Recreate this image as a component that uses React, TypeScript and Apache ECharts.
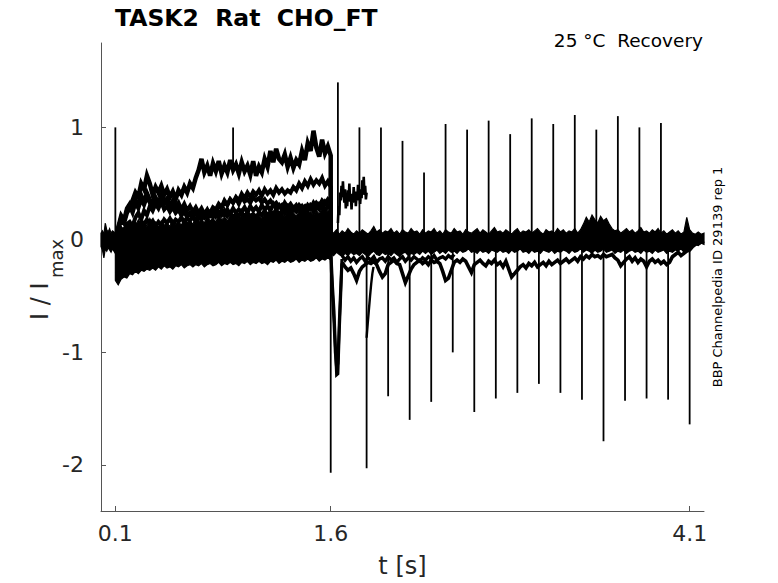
import React, { useEffect, useRef } from "react";
import * as echarts from "echarts";

// ---- axes ----
const X_TICKS = [0.1, 1.6, 4.1];
const Y_TICKS = [-2, -1, 0, 1];
const X_MIN = 0;
const X_MAX = 4.2;
const Y_MIN = -2.41;
const Y_MAX = 1.75;

// ---- baseline before the prepulse (t = 0 .. 0.1, step 0.01) ----
const PRE_START = 0;
const PRE_STEP = 0.01;
const preLower = [-0.06, -0.09, -0.16, -0.08, -0.1, -0.07, -0.09, -0.11, -0.08, -0.1, -0.12];
const preUpper = [0.06, 0.08, 0.05, 0.15, 0.09, 0.07, 0.1, 0.06, 0.08, 0.07, 0.05];

// ---- prepulse (t = 0.1 .. 1.6, step 0.02) ----
const PULSE_START = 0.1;
const PULSE_STEP = 0.02;
const pulseLower = [
  -0.36, -0.4, -0.35, -0.33, -0.34, -0.3, -0.31, -0.28, -0.3, -0.27,
  -0.28, -0.26, -0.27, -0.25, -0.27, -0.24, -0.26, -0.23, -0.25, -0.24,
  -0.26, -0.23, -0.24, -0.22, -0.25, -0.23, -0.22, -0.24, -0.22, -0.23,
  -0.21, -0.24, -0.22, -0.21, -0.23, -0.22, -0.2, -0.23, -0.21, -0.22,
  -0.2, -0.22, -0.21, -0.23, -0.2, -0.21, -0.19, -0.22, -0.2, -0.21,
  -0.19, -0.21, -0.2, -0.22, -0.19, -0.2, -0.18, -0.21, -0.19, -0.2,
  -0.18, -0.2, -0.19, -0.17, -0.2, -0.18, -0.19, -0.17, -0.19, -0.18,
  -0.16, -0.19, -0.17, -0.18, -0.16, -0.18,
];
const pulseUpper = [
  0.02, 0.08, 0.12, 0.06, 0.14, 0.1, 0.16, 0.12, 0.18, 0.13,
  0.17, 0.12, 0.19, 0.14, 0.16, 0.11, 0.17, 0.13, 0.15, 0.12,
  0.18, 0.14, 0.16, 0.13, 0.19, 0.15, 0.17, 0.14, 0.2, 0.16,
  0.18, 0.15, 0.21, 0.17, 0.19, 0.16, 0.22, 0.18, 0.2, 0.17,
  0.21, 0.18, 0.23, 0.19, 0.21, 0.18, 0.22, 0.19, 0.24, 0.2,
  0.22, 0.19, 0.23, 0.2, 0.25, 0.21, 0.23, 0.2, 0.24, 0.21,
  0.26, 0.22, 0.24, 0.21, 0.25, 0.22, 0.27, 0.23, 0.25, 0.22,
  0.26, 0.23, 0.28, 0.24, 0.26, 0.23,
];
const sweepHigh = [
  0.0, 0.1, 0.18, 0.15, 0.24, 0.28, 0.35, 0.42, 0.38, 0.5,
  0.45, 0.57, 0.5, 0.4, 0.47, 0.42, 0.48, 0.4, 0.45, 0.38,
  0.43, 0.36, 0.44, 0.4, 0.47, 0.42, 0.5, 0.46, 0.55, 0.62,
  0.72, 0.6, 0.66, 0.57, 0.68, 0.61, 0.7, 0.59, 0.66, 0.6,
  0.71, 0.62, 0.67, 0.59, 0.69, 0.61, 0.66, 0.58, 0.7, 0.57,
  0.65, 0.6, 0.72, 0.65, 0.79, 0.69, 0.81, 0.72, 0.69, 0.76,
  0.65, 0.73, 0.64, 0.71, 0.67, 0.79, 0.71, 0.86, 0.79, 0.97,
  0.82, 0.74, 0.89, 0.77, 0.83, 0.75,
];
const sweepMid = [
  0.0, 0.06, 0.1, 0.08, 0.14, 0.16, 0.12, 0.2, 0.24, 0.18,
  0.26, 0.22, 0.3, 0.26, 0.32, 0.28, 0.34, 0.27, 0.3, 0.25,
  0.29, 0.24, 0.27, 0.22, 0.26, 0.2, 0.24, 0.21, 0.25, 0.19,
  0.23, 0.2, 0.24, 0.22, 0.27, 0.25, 0.3, 0.28, 0.34, 0.31,
  0.36, 0.33, 0.38, 0.35, 0.41, 0.37, 0.42, 0.38, 0.43, 0.4,
  0.44, 0.39, 0.45, 0.41, 0.44, 0.4, 0.46, 0.42, 0.45, 0.41,
  0.44, 0.42, 0.47, 0.44, 0.5, 0.46, 0.52, 0.48, 0.54, 0.49,
  0.53, 0.5, 0.55, 0.48, 0.52, 0.47,
];
const sweepMid2 = [
  0.0, 0.1, 0.2, 0.16, 0.26, 0.3, 0.24, 0.33, 0.28, 0.36,
  0.31, 0.38, 0.33, 0.29, 0.35, 0.3, 0.37, 0.32, 0.34, 0.28,
  0.3, 0.25, 0.28, 0.22, 0.25, 0.21, 0.23, 0.2, 0.24, 0.21,
  0.25, 0.22, 0.26, 0.24, 0.29, 0.27, 0.32, 0.29, 0.35, 0.31,
  0.36, 0.33, 0.37, 0.32, 0.38, 0.34, 0.36, 0.33, 0.38, 0.35,
  0.37, 0.33, 0.36, 0.32, 0.35, 0.31, 0.33, 0.29, 0.31, 0.27,
  0.3, 0.26, 0.29, 0.27, 0.31, 0.28, 0.3, 0.26, 0.31, 0.29,
  0.33, 0.3, 0.35, 0.32, 0.36, 0.33,
];
const sweepLow = [
  0.0, 0.04, 0.08, 0.05, 0.1, 0.12, 0.09, 0.14, 0.11, 0.16,
  0.13, 0.18, 0.14, 0.17, 0.12, 0.16, 0.13, 0.18, 0.15, 0.19,
  0.14, 0.18, 0.16, 0.2, 0.15, 0.19, 0.17, 0.21, 0.16, 0.22,
  0.18, 0.23, 0.19, 0.24, 0.2, 0.25, 0.21, 0.26, 0.22, 0.27,
  0.23, 0.28, 0.24, 0.27, 0.25, 0.29, 0.24, 0.3, 0.26, 0.29,
  0.25, 0.31, 0.27, 0.3, 0.26, 0.32, 0.28, 0.31, 0.27, 0.33,
  0.29, 0.32, 0.28, 0.31, 0.27, 0.3, 0.26, 0.31, 0.28, 0.33,
  0.29, 0.32, 0.3, 0.34, 0.31, 0.3,
];
const sweepEarly = [
  0.0, 0.12, 0.22, 0.18, 0.28, 0.32, 0.26, 0.36, 0.3, 0.4,
  0.34, 0.42, 0.36, 0.31, 0.38, 0.33, 0.4, 0.34, 0.37, 0.3,
  0.35, 0.29, 0.33, 0.27, 0.32, 0.26, 0.3, 0.25, 0.29, 0.24,
  0.28, 0.23, 0.27, 0.22, 0.26, 0.21, 0.25, 0.22, 0.26, 0.21,
  0.24, 0.2, 0.23, 0.21, 0.25, 0.2, 0.24, 0.21, 0.23, 0.2,
  0.24, 0.22, 0.26, 0.21, 0.25, 0.23, 0.27, 0.22, 0.26, 0.24,
  0.28, 0.23, 0.27, 0.25, 0.29, 0.24, 0.28, 0.26, 0.3, 0.25,
  0.29, 0.27, 0.31, 0.26, 0.3, 0.28,
];

// ---- after the prepulse (t = 1.6 .. 4.2, step 0.02) ----
const POST_START = 1.6;
const POST_STEP = 0.02;
const postUpper = [
  0.08, 0.06, 0.09, 0.05, 0.08, 0.06, 0.1, 0.07, 0.05, 0.08,
  0.06, 0.09, 0.07, 0.05, 0.08, 0.12, 0.07, 0.09, 0.06, 0.08,
  0.07, 0.1, 0.06, 0.08, 0.05, 0.09, 0.07, 0.06, 0.1, 0.07,
  0.08, 0.05, 0.09, 0.06, 0.08, 0.07, 0.1, 0.06, 0.08, 0.05,
  0.09, 0.07, 0.06, 0.1, 0.07, 0.08, 0.05, 0.09, 0.07, 0.06,
  0.08, 0.1, 0.06, 0.09, 0.07, 0.05, 0.08, 0.11, 0.07, 0.08,
  0.06, 0.09, 0.07, 0.05, 0.08, 0.1, 0.06, 0.08, 0.07, 0.09,
  0.06, 0.08, 0.1, 0.07, 0.05, 0.09, 0.07, 0.08, 0.06, 0.1,
  0.07, 0.09, 0.06, 0.08, 0.07, 0.1, 0.06, 0.09, 0.14, 0.2,
  0.16, 0.22, 0.18, 0.15, 0.21, 0.17, 0.19, 0.14, 0.1, 0.08,
  0.09, 0.06, 0.08, 0.1, 0.07, 0.09, 0.06, 0.08, 0.11, 0.07,
  0.08, 0.06, 0.09, 0.07, 0.1, 0.06, 0.08, 0.05, 0.07, 0.09,
  0.06, 0.08, 0.05, 0.07, 0.2, 0.09, 0.06, 0.05, 0.07, 0.05,
  0.06,
];
const postLower = [
  -0.12, -0.14, -0.11, -0.13, -0.15, -0.12, -0.14, -0.11, -0.13, -0.12,
  -0.14, -0.11, -0.13, -0.15, -0.12, -0.1, -0.13, -0.14, -0.11, -0.13,
  -0.12, -0.14, -0.11, -0.13, -0.15, -0.12, -0.11, -0.14, -0.12, -0.13,
  -0.11, -0.13, -0.1, -0.12, -0.1, -0.13, -0.11, -0.09, -0.12, -0.1,
  -0.12, -0.09, -0.11, -0.1, -0.12, -0.09, -0.11, -0.1, -0.08, -0.11,
  -0.1, -0.12, -0.09, -0.11, -0.1, -0.12, -0.09, -0.1, -0.11, -0.09,
  -0.11, -0.1, -0.12, -0.09, -0.11, -0.1, -0.08, -0.11, -0.1, -0.12,
  -0.09, -0.11, -0.1, -0.12, -0.09, -0.1, -0.11, -0.09, -0.12, -0.1,
  -0.11, -0.09, -0.1, -0.12, -0.09, -0.11, -0.1, -0.08, -0.11, -0.09,
  -0.1, -0.12, -0.09, -0.11, -0.1, -0.08, -0.11, -0.1, -0.09, -0.12,
  -0.1, -0.11, -0.09, -0.12, -0.1, -0.09, -0.11, -0.1, -0.12, -0.09,
  -0.11, -0.1, -0.12, -0.09, -0.11, -0.1, -0.09, -0.12, -0.1, -0.11,
  -0.09, -0.1, -0.08, -0.11, -0.09, -0.07, -0.06, -0.04, -0.05, -0.03,
  -0.04,
];
// slowly recovering tail currents (t = 1.68 .. 4.2, step 0.02)
const TAIL_START = 1.68;
const TAIL_STEP = 0.02;
const tailTrace = [
  -0.2, -0.24, -0.27, -0.25, -0.3, -0.36, -0.28, -0.24, -0.22, -0.2,
  -0.21, -0.19, -0.22, -0.28, -0.33, -0.3, -0.22, -0.2, -0.18, -0.21,
  -0.22, -0.3, -0.38, -0.32, -0.26, -0.22, -0.2, -0.18, -0.21, -0.19,
  -0.22, -0.18, -0.2, -0.19, -0.21, -0.28, -0.36, -0.34, -0.27, -0.2,
  -0.18, -0.2, -0.17, -0.19, -0.24, -0.29, -0.22, -0.2, -0.18, -0.21,
  -0.23, -0.19, -0.21, -0.18, -0.22, -0.2, -0.24, -0.19, -0.26, -0.33,
  -0.3, -0.27, -0.24, -0.22, -0.25, -0.21, -0.23, -0.2, -0.24, -0.22,
  -0.2, -0.23, -0.19, -0.22, -0.2, -0.18, -0.21, -0.19, -0.17, -0.2,
  -0.18, -0.16, -0.19, -0.15, -0.17, -0.14, -0.16, -0.13, -0.15, -0.14,
  -0.16, -0.13, -0.15, -0.14, -0.13, -0.16, -0.18, -0.23, -0.2, -0.17,
  -0.15, -0.19, -0.16, -0.2, -0.17, -0.19, -0.24, -0.19, -0.17, -0.2,
  -0.18, -0.21, -0.19, -0.22, -0.2, -0.15, -0.13, -0.11, -0.14, -0.12,
  -0.1, -0.09, -0.06, -0.04, -0.03, -0.02, -0.01,
];
// a second, shallower tail (t = 1.68 .. 2.46, step 0.02)
const tailTrace2 = [
  -0.14, -0.18, -0.15, -0.19, -0.16, -0.2, -0.17, -0.15, -0.19, -0.16,
  -0.18, -0.15, -0.2, -0.17, -0.16, -0.19, -0.15, -0.18, -0.16, -0.2,
  -0.17, -0.15, -0.19, -0.16, -0.18, -0.15, -0.17, -0.19, -0.16, -0.18,
  -0.15, -0.17, -0.14, -0.18, -0.16, -0.15, -0.17, -0.14, -0.16, -0.13,
];
// first test pulse current (t = 1.65 .. 1.85, step 0.005)
const TEST1_START = 1.65;
const TEST1_STEP = 0.005;
const test1Trace = [
  0.15, 0.3, 0.22, 0.42, 0.35, 0.48, 0.38, 0.52, 0.4, 0.33,
  0.45, 0.28, 0.38, 0.3, 0.44, 0.36, 0.5, 0.34, 0.41, 0.27,
  0.39, 0.33, 0.47, 0.36, 0.43, 0.3, 0.4, 0.35, 0.49, 0.38,
  0.45, 0.32, 0.42, 0.37, 0.53, 0.44, 0.56, 0.4, 0.48, 0.36,
  0.42,
];
// deep tail right after the prepulse
const dipTimes = [1.6, 1.604, 1.613, 1.623, 1.632, 1.641, 1.65, 1.66, 1.669, 1.678];
const dipValuesA = [-0.05, -0.18, -0.42, -0.63, -0.92, -1.2, -1.19, -0.8, -0.51, -0.21];
const dipValuesB = [0.0, -0.26, -0.5, -0.74, -1.0, -1.14, -1.1, -0.72, -0.44, -0.17];
// tail after the first test pulse
const recTimes = [1.85, 1.858, 1.866, 1.874, 1.882, 1.89, 1.898];
const recValues = [-0.87, -0.74, -0.62, -0.5, -0.39, -0.3, -0.24];

// ---- capacitive spikes ----
const upSpikeTimes = [0.1, 1.65, 1.8, 1.95, 2.1, 2.25, 2.4, 2.55, 2.7, 2.85, 3.0, 3.15, 3.3, 3.45, 3.6, 3.75, 3.9];
const upSpikePeaks = [1.0, 1.4, 1.0, 1.0, 0.88, 0.6, 1.03, 0.98, 1.06, 0.94, 1.08, 1.03, 1.11, 0.98, 1.1, 1.0, 1.04];
const downSpikeTimes = [1.6, 1.85, 2.0, 2.15, 2.3, 2.45, 2.6, 2.75, 2.9, 3.05, 3.2, 3.35, 3.5, 3.65, 3.8, 3.95, 4.1];
const downSpikePeaks = [-2.07, -2.03, -1.39, -1.6, -1.44, -1.0, -1.53, -1.41, -1.36, -1.28, -1.36, -1.42, -1.79, -1.43, -1.41, -1.42, -1.64];
const noiseSpike = [0.92, 0.62, 1.0];

const FONT = "DejaVu Sans";
const INK = "#000000";
const AXIS_TEXT = "#262626";
const AXIS_LINE = "#555555";

const toXY = (start: number, step: number, vals: number[]) =>
  vals.map((v, i) => [Math.round((start + i * step) * 10000) / 10000, v]);

function bandSeries(start: number, step: number, lower: number[], upper: number[]) {
  return {
    type: "custom",
    silent: true,
    z: 1,
    data: [[start, 0]],
    encode: { x: 0, y: 1 },
    renderItem: (_p: any, api: any) => {
      const pts: number[][] = [];
      lower.forEach((v, i) => pts.push(api.coord([start + i * step, v])));
      for (let i = upper.length - 1; i >= 0; i--) pts.push(api.coord([start + i * step, upper[i]]));
      return {
        type: "polygon",
        shape: { points: pts },
        style: { fill: INK, stroke: INK, lineWidth: 1.2 },
      };
    },
  };
}

function lineSeries(data: number[][], width = 1) {
  return {
    type: "line",
    data,
    symbol: "none",
    showSymbol: false,
    silent: true,
    z: 2,
    lineStyle: { color: INK, width, join: "miter" },
    itemStyle: { color: INK },
  };
}

function spikeSeries(data: number[][]) {
  return {
    type: "custom",
    silent: true,
    z: 3,
    data,
    encode: { x: 0, y: [1, 2] },
    renderItem: (_p: any, api: any) => {
      const a = api.coord([api.value(0), api.value(1)]);
      const b = api.coord([api.value(0), api.value(2)]);
      return {
        type: "line",
        shape: { x1: a[0], y1: a[1], x2: b[0], y2: b[1] },
        style: { stroke: INK, lineWidth: 1.8 },
      };
    },
  };
}

export default function App() {
  const ref = useRef<HTMLDivElement>(null);

  useEffect(() => {
    if (!ref.current) return;
    const chart = echarts.init(ref.current, undefined, { renderer: "svg" });

    const withReturn = (vals: number[]) => [...toXY(PULSE_START, PULSE_STEP, vals), [1.6, 0]];
    const spikes = [
      ...upSpikeTimes.map((t, i) => [t, 0, upSpikePeaks[i]]),
      ...downSpikeTimes.map((t, i) => [t, 0, downSpikePeaks[i]]),
      noiseSpike,
    ];
    const dipA = dipTimes.map((t, i) => [t, dipValuesA[i]]);
    const dipB = dipTimes.map((t, i) => [t, dipValuesB[i]]);
    const rec = recTimes.map((t, i) => [t, recValues[i]]);

    chart.setOption({
      animation: false,
      grid: { left: 101, right: 74, top: 43, bottom: 71, containLabel: false },
      xAxis: {
        type: "value",
        min: X_MIN,
        max: X_MAX,
        name: "t [s]",
        nameLocation: "middle",
        nameGap: 43,
        nameTextStyle: { fontSize: 24, color: AXIS_TEXT, fontFamily: FONT },
        axisLine: { show: true, onZero: false, lineStyle: { color: AXIS_LINE, width: 1 } },
        axisTick: { show: true, inside: true, length: 5, customValues: X_TICKS, lineStyle: { color: AXIS_LINE } },
        axisLabel: { customValues: X_TICKS, fontSize: 22, color: AXIS_TEXT, fontFamily: FONT, margin: 11 },
        splitLine: { show: false },
      },
      yAxis: {
        type: "value",
        min: Y_MIN,
        max: Y_MAX,
        axisLine: { show: true, onZero: false, lineStyle: { color: AXIS_LINE, width: 1 } },
        axisTick: { show: true, inside: true, length: 5, customValues: Y_TICKS, lineStyle: { color: AXIS_LINE } },
        axisLabel: { customValues: Y_TICKS, fontSize: 22, color: AXIS_TEXT, fontFamily: FONT, margin: 17 },
        splitLine: { show: false },
      },
      graphic: [
        {
          type: "text",
          x: 115,
          y: 18,
          style: { text: "TASK2  Rat  CHO_FT", fontSize: 23.5, fontWeight: "bold", fontFamily: FONT, fill: INK, align: "left", verticalAlign: "middle" },
        },
        {
          type: "text",
          x: 703,
          y: 40,
          style: { text: "25 °C  Recovery", fontSize: 18.5, fontFamily: FONT, fill: INK, align: "right", verticalAlign: "middle" },
        },
        {
          type: "text",
          x: 717,
          y: 277,
          rotation: Math.PI / 2,
          style: { text: "BBP Channelpedia ID 29139 rep 1", fontSize: 13, fontFamily: FONT, fill: INK, align: "center", verticalAlign: "middle" },
        },
        {
          type: "text",
          x: 40,
          y: 320,
          rotation: Math.PI / 2,
          style: { text: "I / I", fontSize: 24, fontFamily: FONT, fill: AXIS_TEXT, align: "left", verticalAlign: "middle" },
        },
        {
          type: "text",
          x: 56,
          y: 278,
          rotation: Math.PI / 2,
          style: { text: "max", fontSize: 18, fontFamily: FONT, fill: AXIS_TEXT, align: "left", verticalAlign: "middle" },
        },
      ],
      series: [
        bandSeries(PRE_START, PRE_STEP, preLower, preUpper),
        bandSeries(PULSE_START, PULSE_STEP, pulseLower, pulseUpper),
        bandSeries(POST_START, POST_STEP, postLower, postUpper),
        lineSeries(withReturn(sweepEarly), 4),
        lineSeries(withReturn(sweepLow), 4),
        lineSeries(withReturn(sweepMid2), 4),
        lineSeries(withReturn(sweepMid), 4),
        lineSeries(withReturn(sweepHigh), 4.5),
        lineSeries(toXY(TAIL_START, TAIL_STEP, tailTrace2), 3.4),
        lineSeries(toXY(TAIL_START, TAIL_STEP, tailTrace), 3.6),
        lineSeries(toXY(TEST1_START, TEST1_STEP, test1Trace), 2.6),
        lineSeries(dipA, 3),
        lineSeries(dipB, 3),
        lineSeries(rec, 2.4),
        spikeSeries(spikes),
      ],
    });

    return () => chart.dispose();
  }, []);

  return (
    <div
      ref={ref}
      style={{ position: "fixed", left: 0, top: 0, width: 778, height: 583, background: "#ffffff" }}
    />
  );
}
